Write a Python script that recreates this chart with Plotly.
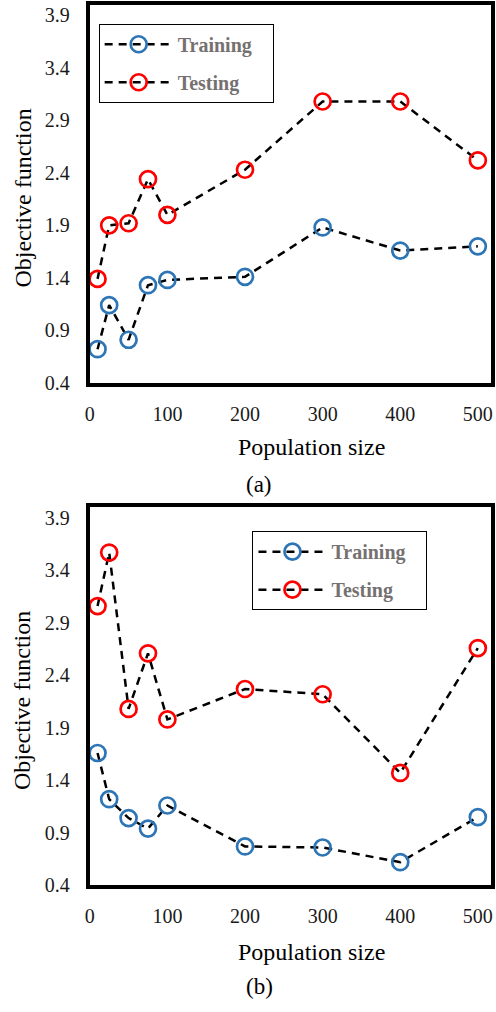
import plotly.graph_objects as go

# ---- data ----
population_size = [10, 25, 50, 75, 100, 200, 300, 400, 500]

a_training = [0.72, 1.14, 0.81, 1.33, 1.38, 1.41, 1.88, 1.66, 1.70]
a_testing = [1.39, 1.90, 1.92, 2.34, 2.00, 2.43, 3.08, 3.08, 2.52]

b_training = [1.66, 1.22, 1.04, 0.94, 1.16, 0.77, 0.76, 0.62, 1.05]
b_testing = [3.06, 3.57, 2.08, 2.61, 1.98, 2.27, 2.22, 1.47, 2.66]

series_names = ["Training", "Testing"]
series_colors = ["#2E75B6", "#FF0000"]
x_ticks = [0, 100, 200, 300, 400, 500]
y_ticks = [0.4, 0.9, 1.4, 1.9, 2.4, 2.9, 3.4, 3.9]
panel_labels = ["(a)", "(b)"]

W, H = 496, 1012
FONT = "Liberation Serif"


def px_x(p):
    return p / W


def px_y(p):
    return 1 - p / H


fig = go.Figure()

panels = [
    (a_training, a_testing, "x", "y", "legend"),
    (b_training, b_testing, "x2", "y2", "legend2"),
]
for pi, (tr, te, xa, ya, lg) in enumerate(panels):
    for si, vals in enumerate([tr, te]):
        fig.add_trace(go.Scatter(
            x=population_size, y=vals, xaxis=xa, yaxis=ya,
            name=series_names[si] + "\u00a0\u00a0\u00a0", legend=lg,
            legendgroup=f"{pi}-{si}",
            mode="lines+markers",
            line=dict(color="black", width=2.5, dash="8px,6px"),
            marker=dict(symbol="circle-open", size=16, color=series_colors[si],
                        line=dict(width=2.7, color=series_colors[si])),
        ))

axis_common = dict(
    showline=True, linecolor="black", linewidth=4, mirror=True,
    showgrid=False, zeroline=False,
    ticks="outside", tickcolor="rgba(0,0,0,0)",
    tickfont=dict(family=FONT, size=20, color="#1a1a1a"),
)

# panel pixel boxes: (left, right, top, bottom)
boxes = [(86, 493, 5, 387), (86, 493, 513, 895)]

layout = dict(
    width=W, height=H, margin=dict(l=0, r=0, t=0, b=0),
    paper_bgcolor="white", plot_bgcolor="white",
    showlegend=True,
)
for i, (l, r, t, b) in enumerate(boxes):
    sfx = "" if i == 0 else "2"
    layout["xaxis" + sfx] = dict(
        axis_common, domain=[px_x(l), px_x(r)], range=[0, 517],
        tickvals=x_ticks, ticklen=10,
        anchor="y" + sfx,
    )
    layout["yaxis" + sfx] = dict(
        axis_common, domain=[px_y(b), px_y(t)], range=[0.4, 4.0],
        tickvals=y_ticks, tickformat=".1f", ticklen=12,
        anchor="x" + sfx,
    )

legend_common = dict(
    bgcolor="white", bordercolor="black", borderwidth=1,
    font=dict(family=FONT, size=20, color="#767171", weight="bold"),
    xanchor="left", yanchor="top", traceorder="grouped", tracegroupgap=9,
    itemwidth=68,
)
layout["legend"] = dict(legend_common, x=px_x(95), y=px_y(24))
layout["legend2"] = dict(legend_common, x=px_x(251), y=px_y(537))

fig.update_layout(**layout)

# axis titles and panel labels
title_pos = [
    dict(ytitle_y=200, xtitle_y=452, lab_y=490),
    dict(ytitle_y=708, xtitle_y=962, lab_y=997),
]
for i, tp in enumerate(title_pos):
    fig.add_annotation(
        text="Objective function", textangle=-90, showarrow=False,
        xref="paper", yref="paper", x=px_x(18), y=px_y(tp["ytitle_y"]),
        xanchor="center", yanchor="middle",
        font=dict(family=FONT, size=24, color="black"),
    )
    fig.add_annotation(
        text="Population size", showarrow=False,
        xref="paper", yref="paper", x=px_x(311), y=px_y(tp["xtitle_y"]),
        xanchor="center", yanchor="middle",
        font=dict(family=FONT, size=24, color="black"),
    )
    fig.add_annotation(
        text=panel_labels[i], showarrow=False,
        xref="paper", yref="paper", x=px_x(258), y=px_y(tp["lab_y"]),
        xanchor="center", yanchor="middle",
        font=dict(family=FONT, size=23, color="black"),
    )

fig.write_html(
    "out.html",
    config={"displayModeBar": False},
    post_script="document.body.style.margin='0';document.body.style.overflow='hidden';",
)
